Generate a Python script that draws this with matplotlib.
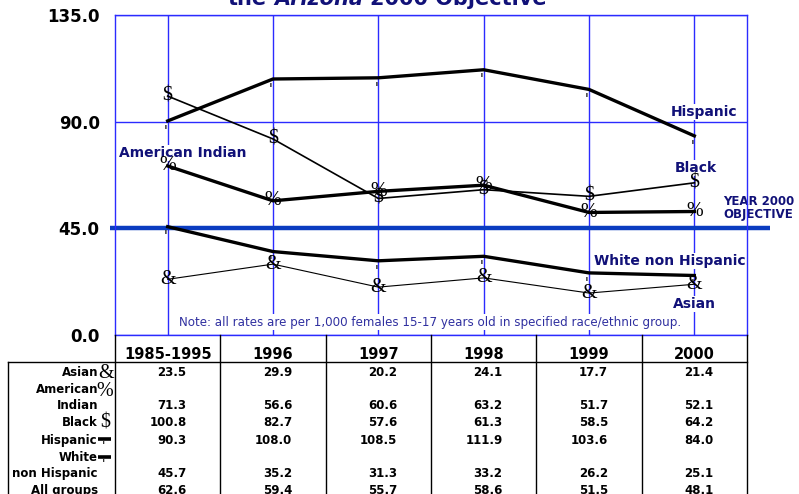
import matplotlib
matplotlib.use("Agg")

import matplotlib.pyplot as plt
from matplotlib.transforms import blended_transform_factory


# =====================================================
# DATA
# =====================================================
years = ["1985-1995", "1996", "1997", "1998", "1999", "2000"]
asian = [23.5, 29.9, 20.2, 24.1, 17.7, 21.4]
american_indian = [71.3, 56.6, 60.6, 63.2, 51.7, 52.1]
black = [100.8, 82.7, 57.6, 61.3, 58.5, 64.2]
hispanic = [90.3, 108.0, 108.5, 111.9, 103.6, 84.0]
white_non_hispanic = [45.7, 35.2, 31.3, 33.2, 26.2, 25.1]
all_groups = [62.6, 59.4, 55.7, 58.6, 51.5, 48.1]
objective = 45.0
y_ticks = [0.0, 45.0, 90.0, 135.0]

row_names = ["Asian", "American\nIndian", "Black", "Hispanic", "White\nnon Hispanic", "All groups"]
row_values = [asian, american_indian, black, hispanic, white_non_hispanic, all_groups]

NAVY = "#111178"
GRID = "#2b2bff"
OBJ = "#0a3cc0"
SERIF = "Liberation Serif"

W, H = 799, 494
fig = plt.figure(figsize=(W / 100, H / 100), dpi=100)
ax = fig.add_axes([115 / W, (H - 335) / H, 632 / W, 320 / H])

# overlay in pixel coordinates (y downwards) for the table and labels
ov = fig.add_axes([0, 0, 1, 1], zorder=5)
ov.set_xlim(0, W)
ov.set_ylim(H, 0)
ov.axis("off")
ov.patch.set_visible(False)
px = ov.transData
colx = blended_transform_factory(ax.transData, ov.transData)

# =====================================================
# MAIN CHART
# =====================================================
x = list(range(len(years)))
ax.set_xlim(-0.5, len(years) - 0.5)
ax.set_ylim(0, 135)
ax.set_xticks(x)
ax.set_xticklabels([])
ax.set_yticks(y_ticks)
ax.set_yticklabels([f"{v:.1f}" for v in y_ticks], fontsize=12, fontweight="bold")
ax.tick_params(length=0, pad=11)
ax.set_axisbelow(True)
ax.grid(True, color=GRID, lw=1)
for s in ax.spines.values():
    s.set_color(GRID)
    s.set_linewidth(1)

ax.plot(x, hispanic, color="black", lw=2.4, zorder=3)
ax.plot(x, american_indian, color="black", lw=2.4, zorder=3)
ax.plot(x, white_non_hispanic, color="black", lw=2.4, zorder=3)
ax.plot(x, black, color="black", lw=1.2, zorder=3)
ax.plot(x, asian, color="black", lw=0.8, zorder=3)

ax.plot([-0.55, 5.72], [objective, objective], color=OBJ, lw=3.2,
        solid_capstyle="butt", clip_on=False, zorder=2.5)

# marker glyphs
for series, glyph in [(asian, "&"), (american_indian, "%"), (black, "$")]:
    for xi, v in zip(x, series):
        ax.text(xi, v, glyph, ha="center", va="center", fontsize=14.5,
                family=SERIF, zorder=4)
for series in [hispanic, white_non_hispanic]:
    for xi, v in zip(x, series):
        ax.annotate("'", (xi, v), xytext=(-1.5, -7), textcoords="offset points",
                    ha="center", va="center", fontsize=10, style="italic",
                    family="DejaVu Sans", zorder=4)

# series labels
lab = dict(color=NAVY, fontsize=10, fontweight="bold", transform=px, zorder=1,
           va="center", bbox=dict(facecolor="white", edgecolor="none", pad=1))
ax.text(704, 112, "Hispanic", ha="center", **lab)
ax.text(696, 168, "Black", ha="center", **lab)
ax.text(119, 153, "American Indian", ha="left", **lab)
ax.text(670, 261, "White non Hispanic", ha="center", **lab)
ax.text(694, 304, "Asian", ha="center", **lab)
ax.text(723, 208, "YEAR 2000\nOBJECTIVE", ha="left", color=NAVY, fontsize=8.5,
        fontweight="bold", transform=px, zorder=1, va="center", linespacing=1.0,
        bbox=dict(facecolor="white", edgecolor="none", pad=1))
ax.text(430, 322, "Note: all rates are per 1,000 females 15-17 years old in specified race/ethnic group.",
        ha="center", va="center", color="#3030a0", fontsize=8.6, transform=px, zorder=1,
        bbox=dict(facecolor="white", edgecolor="none", pad=1))

# title (cut off at the top)
tkw = dict(fontsize=15, fontweight="bold", color=NAVY)
t1 = ov.text(228, 5, "the", ha="left", va="baseline", **tkw)
t2 = ov.annotate("Arizona", xy=(1, 0), xycoords=t1, xytext=(5, 0),
                 textcoords="offset points", ha="left", va="bottom", style="italic", **tkw)
ov.annotate("2000 Objective", xy=(1, 0), xycoords=t2, xytext=(5, 0),
            textcoords="offset points", ha="left", va="bottom", **tkw)

# =====================================================
# TABLE
# =====================================================
edges = [i - 0.5 for i in range(len(years) + 1)]
for e in edges:
    ov.plot([e, e], [335, H], color="black", lw=1, transform=colx)
ov.plot([8, 8], [362, H], color="black", lw=1)
ov.plot([8, 747], [362, 362], color="black", lw=1)

for xi, yr in zip(x, years):
    ov.text(xi, 354, yr, ha="center", va="center", fontsize=10.5,
            fontweight="bold", transform=colx)

row_y = [372, 405, 422, 440, 473, 490]
for name, vals, yy in zip(row_names, row_values, row_y):
    lines = name.split("\n")
    for k, ln in enumerate(reversed(lines)):
        ov.text(98, yy - 16 * k, ln, ha="right", va="center", fontsize=8.5,
                fontweight="bold")
    for xi, v in zip(x, vals):
        ov.text(xi + 0.18, yy, f"{v:.1f}", ha="right", va="center", fontsize=8.5,
                fontweight="bold", transform=colx)

# legend symbols in the table
sym = dict(ha="center", va="center", fontsize=14.5, family=SERIF)
ov.text(106, 373, "&", **sym)
ov.text(105, 391, "%", **sym)
ov.text(105, 423, "$", **sym)
for yy in [439, 457]:
    ov.plot([98, 111], [yy, yy], color="black", lw=2.6, solid_capstyle="butt")
    ov.text(103, yy + 7, "'", ha="center", va="center", fontsize=9,
            style="italic", family="DejaVu Sans")

fig.savefig("out.png", dpi=100)
plt.close(fig)
